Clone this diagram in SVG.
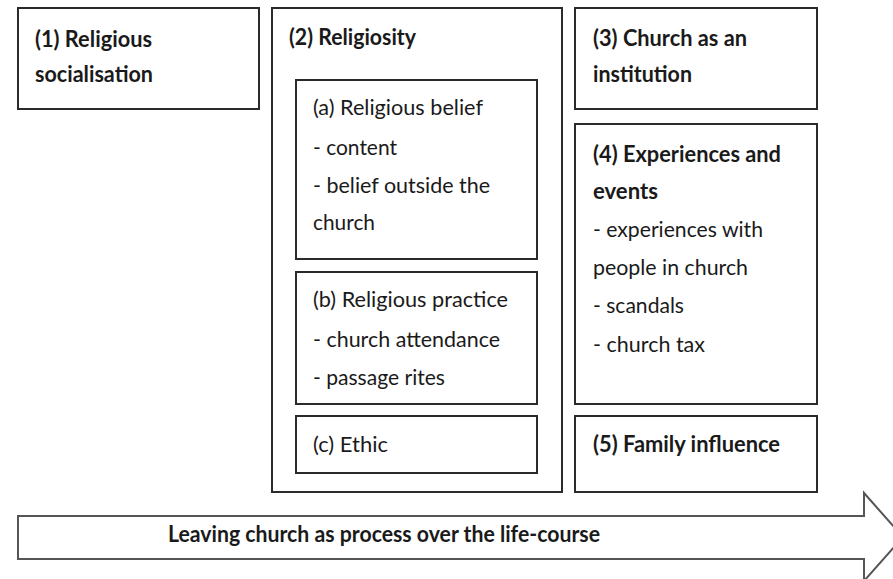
<svg xmlns="http://www.w3.org/2000/svg" width="893" height="579" viewBox="0 0 893 579">
<style>
  .box { fill: #ffffff; stroke: #2b2b2b; stroke-width: 2; }
  .h { font-family: Lato, "Open Sans", "Liberation Sans", sans-serif; font-weight: bold; font-size: 23px; fill: #1a1a1a; }
  .t { font-family: Lato, "Open Sans", "Liberation Sans", sans-serif; font-size: 21px; fill: #1a1a1a; }
  .arrow { fill: #ffffff; stroke: #555555; stroke-width: 2; stroke-linejoin: miter; }
  .at { font-family: Lato, "Open Sans", "Liberation Sans", sans-serif; font-weight: bold; font-size: 23px; fill: #1a1a1a; }
</style>
<rect width="893" height="579" fill="#ffffff"/>

<g id="node-religious-socialisation">
  <rect class="box" x="18" y="8" width="241" height="101"/>
  <text class="h" x="35" y="47" textLength="117" lengthAdjust="spacingAndGlyphs">(1) Religious</text>
  <text class="h" x="35" y="82" textLength="118" lengthAdjust="spacingAndGlyphs">socialisation</text>
</g>

<g id="node-religiosity">
  <rect class="box" x="272" y="8" width="290" height="484"/>
  <text class="h" x="289" y="45" textLength="127" lengthAdjust="spacingAndGlyphs">(2) Religiosity</text>
</g>

<g id="node-religious-belief">
  <rect class="box" x="296" y="80" width="241" height="179"/>
  <text class="t" x="313" y="115" textLength="170" lengthAdjust="spacingAndGlyphs">(a) Religious belief</text>
  <text class="t" x="313" y="155" textLength="84" lengthAdjust="spacingAndGlyphs">- content</text>
  <text class="t" x="313" y="193" textLength="177" lengthAdjust="spacingAndGlyphs">- belief outside the</text>
  <text class="t" x="313" y="230" textLength="62" lengthAdjust="spacingAndGlyphs">church</text>
</g>

<g id="node-religious-practice">
  <rect class="box" x="296" y="272" width="241" height="132"/>
  <text class="t" x="313" y="307" textLength="195" lengthAdjust="spacingAndGlyphs">(b) Religious practice</text>
  <text class="t" x="313" y="347" textLength="187" lengthAdjust="spacingAndGlyphs">- church attendance</text>
  <text class="t" x="313" y="385" textLength="132" lengthAdjust="spacingAndGlyphs">- passage rites</text>
</g>

<g id="node-ethic">
  <rect class="box" x="296" y="416" width="241" height="57"/>
  <text class="t" x="313" y="452" textLength="75" lengthAdjust="spacingAndGlyphs">(c) Ethic</text>
</g>

<g id="node-church-institution">
  <rect class="box" x="575" y="8" width="242" height="101"/>
  <text class="h" x="593" y="46" textLength="154" lengthAdjust="spacingAndGlyphs">(3) Church as an</text>
  <text class="h" x="593" y="82" textLength="99" lengthAdjust="spacingAndGlyphs">institution</text>
</g>

<g id="node-experiences">
  <rect class="box" x="575" y="124" width="242" height="280"/>
  <text class="h" x="593" y="162" textLength="188" lengthAdjust="spacingAndGlyphs">(4) Experiences and</text>
  <text class="h" x="593" y="199" textLength="65" lengthAdjust="spacingAndGlyphs">events</text>
  <text class="t" x="593" y="237" textLength="170" lengthAdjust="spacingAndGlyphs">- experiences with</text>
  <text class="t" x="593" y="275" textLength="155" lengthAdjust="spacingAndGlyphs">people in church</text>
  <text class="t" x="593" y="313" textLength="91" lengthAdjust="spacingAndGlyphs">- scandals</text>
  <text class="t" x="593" y="352" textLength="112" lengthAdjust="spacingAndGlyphs">- church tax</text>
</g>

<g id="node-family-influence">
  <rect class="box" x="575" y="416" width="242" height="76"/>
  <text class="h" x="593" y="452" textLength="187" lengthAdjust="spacingAndGlyphs">(5) Family influence</text>
</g>

<g id="connectors">
  <polygon class="arrow" points="18,516 864,516 864,493 903,537 864,581 864,559 18,559"/>
  <text class="at" x="168" y="542" textLength="432" lengthAdjust="spacingAndGlyphs">Leaving church as process over the life-course</text>
</g>
</svg>
